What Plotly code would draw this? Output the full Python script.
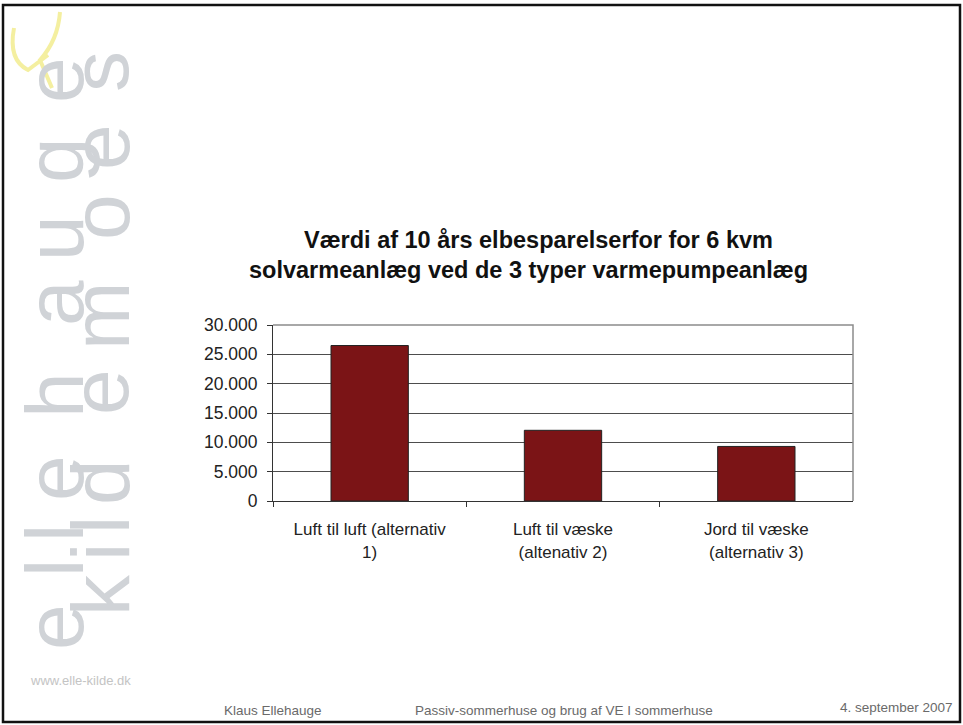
import plotly.graph_objects as go

# ==========================================
# Data
# ==========================================

categories = [
    "Luft til luft (alternativ<br>1)",
    "Luft til væske<br>(altenativ 2)",
    "Jord til væske<br>(alternativ 3)",
]
values = [26500, 12050, 9300]

y_ticks = [0, 5000, 10000, 15000, 20000, 25000, 30000]

title_lines = [
    "Værdi af 10 års elbesparelserfor for 6 kvm",
    "solvarmeanlæg ved de 3 typer varmepumpeanlæg",
]

footer_left = "Klaus Ellehauge"
footer_mid = "Passiv-sommerhuse og brug af VE I sommerhuse"
footer_right = "4. september 2007"

W, H = 963, 725


# helpers: pixel -> paper (margins are zero, so paper == page)
def px(x):
    return x / W


def py(y):
    return 1 - y / H


def label(fig, text, x, y, font, xanchor="center", angle=0):
    fig.add_annotation(
        text=text, x=px(x), y=py(y), xref="paper", yref="paper",
        xanchor=xanchor, yanchor="middle", textangle=angle,
        showarrow=False, font=font,
    )


# ==========================================
# Bar chart
# ==========================================

fig = go.Figure()

fig.add_trace(go.Bar(
    x=categories,
    y=values,
    width=0.4,
    marker=dict(color="#7B1416", line=dict(color="#222222", width=1)),
    showlegend=False,
))

fig.update_layout(
    width=W,
    height=H,
    autosize=False,
    margin=dict(l=0, r=0, t=0, b=0, pad=0),
    paper_bgcolor="white",
    plot_bgcolor="white",
    separators=",.",
    font=dict(family="Liberation Sans, Arial, sans-serif", color="#222222"),
    xaxis=dict(
        domain=[px(273), px(853)],
        automargin=False,
        showline=True,
        linecolor="#333333",
        linewidth=1,
        ticks="outside",
        tickson="boundaries",
        ticklen=5,
        tickcolor="#333333",
        ticklabelstandoff=13,
        tickfont=dict(size=17, color="#222222"),
        showgrid=False,
    ),
    yaxis=dict(
        domain=[py(501), py(325)],
        automargin=False,
        range=[0, 30000],
        tickvals=y_ticks,
        tickformat=",d",
        showline=True,
        linecolor="#333333",
        linewidth=1,
        ticks="outside",
        ticklen=5,
        tickcolor="#333333",
        ticklabelstandoff=6,
        tickfont=dict(size=17.5, color="#222222"),
        showgrid=True,
        gridcolor="#4d4d4d",
        gridwidth=1,
        zeroline=False,
    ),
)

# plot area frame (top / right edges, lighter grey)
fig.add_shape(
    type="path",
    path=f"M {px(273)},{py(325)} L {px(853)},{py(325)} L {px(853)},{py(501)}",
    xref="paper", yref="paper",
    line=dict(color="#8c8c8c", width=1.5),
)

# ==========================================
# Title
# ==========================================

title_font = dict(size=23.5, color="#111111", family="Liberation Sans, Arial")
label(fig, f"<b>{title_lines[0]}</b>", 538, 240, title_font)
label(fig, f"<b>{title_lines[1]}</b>", 528, 270, title_font)

# ==========================================
# Footer
# ==========================================

foot_font = dict(size=13.5, color="#6a6a6a", family="Liberation Sans, Arial")
label(fig, footer_left, 222, 710, foot_font, xanchor="left")
label(fig, footer_mid, 564, 710, foot_font)
label(fig, footer_right, 955, 707, foot_font, xanchor="right")

# ==========================================
# Side logo (decoration)
# ==========================================

logo_font = dict(size=82, color="#d0d3d7", family="Liberation Sans, Arial")

word1 = ["e", "l", "l", "e", "h", "a", "u", "g", "e"]
word1_y = [627, 568, 533, 478, 395, 303, 238, 160, 80]
word2 = ["k", "i", "l", "d", "e", "m", "o", "e", "s"]
word2_y = [595, 552, 525, 482, 392, 316, 217, 147, 72]

for ch, yc in zip(word1, word1_y):
    label(fig, ch, 54, yc, logo_font, angle=-90)
for ch, yc in zip(word2, word2_y):
    label(fig, ch, 100, yc, logo_font, angle=-90)

label(fig, "www.elle-kilde.dk", 80, 680,
      dict(size=13, color="#c4c4c4", family="Liberation Sans, Arial"))

# yellow swirl
swirl = dict(color="#f4efa0", width=4)
fig.add_shape(
    type="path",
    path=(f"M {px(14)},{py(28)} Q {px(8)},{py(60)} {px(28)},{py(70)} "
          f"L {px(48)},{py(55)}"),
    xref="paper", yref="paper", line=swirl,
)
fig.add_shape(
    type="path",
    path=(f"M {px(60)},{py(12)} Q {px(58)},{py(40)} {px(40)},{py(60)} "
          f"L {px(52)},{py(88)}"),
    xref="paper", yref="paper", line=swirl,
)

# slide border
fig.add_shape(
    type="rect", x0=px(3), y0=py(5), x1=px(960), y1=py(722),
    xref="paper", yref="paper",
    line=dict(color="#111111", width=2.5),
)

fig.write_html(
    "out.html",
    config={"displayModeBar": False},
    post_script="document.body.style.margin='0';"
                "document.body.style.overflow='hidden';",
)
